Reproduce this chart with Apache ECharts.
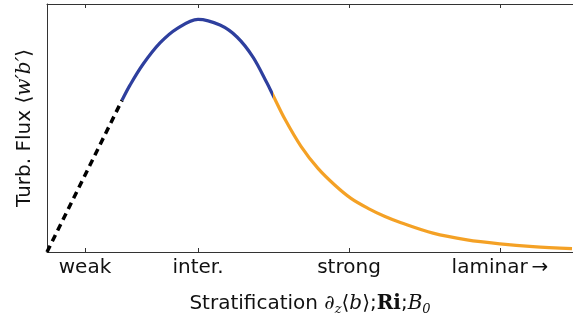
<!DOCTYPE html>
<html>
<head>
<meta charset="utf-8">
<script src="https://cdn.jsdelivr.net/npm/echarts@6/dist/echarts.min.js"></script>
<style>
html,body{margin:0;padding:0;background:#fff;}
#c{width:573px;height:324px;}
</style>
</head>
<body>
<div id="c"></div>
<script>
// Categories (tick positions along stratification axis) and labels
const tickValues = [38, 151, 302, 453];
const tickLabels = ['weak', 'inter.', 'strong', 'laminar\u2009\u2192'];

// Weak regime (dashed)
const weakX = [0, 75];
const weakY = [0, 61.2];

// Intermediate regime (blue)
const interX = [75, 83, 96, 113, 130, 151, 173, 190, 206, 220];
const interY = [61.2, 67.3, 75.7, 84.3, 90.1, 93.8, 91.5, 86.7, 78.6, 68.1];

// Strong regime (orange)
const strongX = [226, 238, 254, 271, 288, 304, 321, 338, 354, 386, 420, 453, 486, 525];
const strongY = [63.2, 53.5, 42.6, 33.7, 26.9, 21.6, 17.6, 14.3, 11.8, 7.6, 4.9, 3.3, 2.2, 1.4];

const regimeSplit = 226;

const zip = (xs, ys) => xs.map((x, i) => [x, ys[i]]);

const chart = echarts.init(document.getElementById('c'), null, {renderer: 'canvas'});
const axisCol = '#333';
const font = 'DejaVu Sans';
const serif = 'DejaVu Serif';
const fs = 20;
const blue = '#2E3F9E';
const orange = '#F4A125';

chart.setOption({
  animation: false,
  backgroundColor: '#fff',
  grid: {left: 47, right: 0, top: 4, bottom: 72},
  xAxis: [{
    type: 'value', min: 0, max: 526, position: 'bottom',
    axisLine: {show: true, onZero: false, lineStyle: {color: axisCol, width: 1}},
    splitLine: {show: false},
    axisTick: {show: true, inside: true, length: 4, customValues: tickValues, lineStyle: {color: axisCol}},
    axisLabel: {
      show: true, customValues: tickValues, margin: 6,
      fontFamily: font, fontSize: fs, color: '#111',
      formatter: v => tickLabels[tickValues.indexOf(v)]
    },
    name: 'Stratification {it|\u2202}{sub|z}{n|\u27E8}{it|b}{n|\u27E9};{bf|Ri};{it|B}{sub|0}',
    nameLocation: 'middle', nameGap: 39,
    nameTextStyle: {
      fontFamily: font, fontSize: fs, color: '#111',
      rich: {
        it: {fontFamily: serif, fontStyle: 'italic', fontSize: fs, color: '#111'},
        n: {fontFamily: font, fontSize: fs, color: '#111'},
        bf: {fontFamily: serif, fontWeight: 'bold', fontSize: fs, color: '#111'},
        sub: {fontFamily: serif, fontStyle: 'italic', fontSize: 13, color: '#111', padding: [12, 0, 0, 0]}
      }
    }
  }, {
    type: 'value', min: 0, max: 526, position: 'top',
    axisLine: {show: true, onZero: false, lineStyle: {color: axisCol, width: 1}},
    splitLine: {show: false},
    axisTick: {show: true, inside: true, length: 4, customValues: tickValues, lineStyle: {color: axisCol}},
    axisLabel: {show: false}
  }],
  yAxis: {
    type: 'value', min: 0, max: 100,
    axisLine: {show: true, onZero: false, lineStyle: {color: axisCol, width: 1}},
    splitLine: {show: false},
    axisTick: {show: false},
    axisLabel: {show: false},
    name: 'Turb. Flux {n|\u27E8}{it|w\u2032b\u2032}{n|\u27E9}',
    nameLocation: 'middle', nameGap: 12, nameRotate: 90,
    nameTextStyle: {
      fontFamily: font, fontSize: fs, color: '#111',
      rich: {
        it: {fontFamily: serif, fontStyle: 'italic', fontSize: fs, color: '#111'},
        n: {fontFamily: font, fontSize: fs, color: '#111'}
      }
    }
  },
  series: [{
    type: 'line', data: zip(weakX, weakY), showSymbol: false, smooth: false,
    lineStyle: {color: '#000', width: 3.5, type: [7, 5], cap: 'butt'}
  }, {
    type: 'line',
    data: zip(interX, interY).concat(zip(strongX, strongY)),
    showSymbol: false, smooth: 0.33,
    lineStyle: {width: 3.2, color: blue}
  }]
});

// colour the regimes: split position obtained from the axis scale
const splitPx = chart.convertToPixel({xAxisIndex: 0}, regimeSplit);
const W = chart.getWidth();
const f = Math.min(1, Math.max(0, splitPx / W));
chart.setOption({
  series: [{}, {
    lineStyle: {
      color: new echarts.graphic.LinearGradient(0, 0, W, 0, [
        {offset: 0, color: blue}, {offset: f, color: blue},
        {offset: f, color: orange}, {offset: 1, color: orange}
      ], true)
    }
  }]
});
</script>
</body>
</html>
